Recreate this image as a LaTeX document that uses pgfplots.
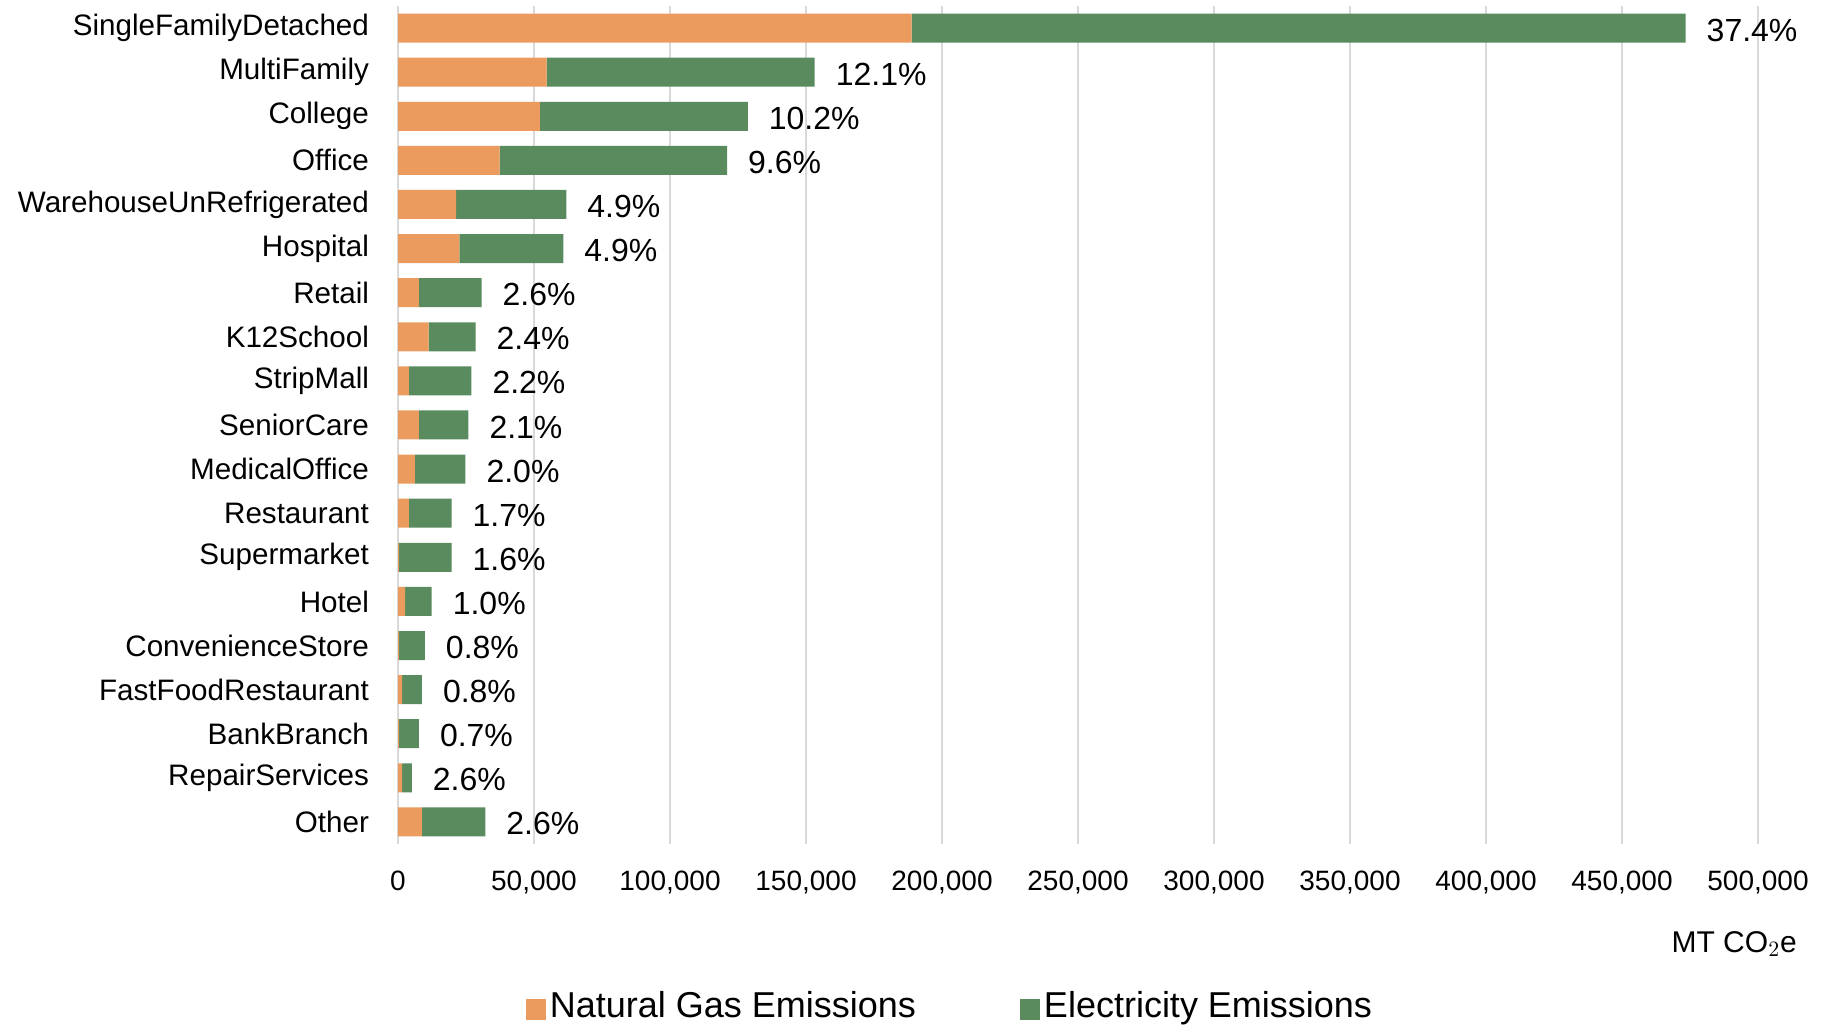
\documentclass[border=0pt]{standalone}
\usepackage{pgfplots}
\pgfplotsset{compat=1.18}
\usepackage{fontspec}
\setmainfont{Liberation Sans}
\definecolor{gasc}{RGB}{235,155,94}
\definecolor{elec}{RGB}{89,139,95}
\definecolor{gridc}{RGB}{217,217,217}

\begin{document}
\begin{tikzpicture}
\path[use as bounding box] (0,0) rectangle (910.5pt,513pt);
\begin{axis}[
    at={(199pt,91pt)}, anchor=south west,
    scale only axis,
    width=680pt, height=419pt,
    xbar stacked,
    bar width=14.5pt,
    xmin=0, xmax=500000,
    ymin=-0.5, ymax=18.5,
    y dir=reverse,
    axis line style={draw=none},
    xtick={0,50000,...,500000},
    scaled x ticks=false,
    /pgf/number format/.cd, fixed, 1000 sep={,}, assume math mode=true,
    /pgfplots/.cd,
    xmajorgrids,
    grid style={gridc, line width=1pt},
    major tick length=0pt,
    xticklabel style={font=\fontsize{14}{16}\selectfont, yshift=-10pt},
    ytick={0,...,18},
    yticklabels={SingleFamilyDetached,MultiFamily,College,Office,WarehouseUnRefrigerated,Hospital,Retail,K12School,StripMall,SeniorCare,MedicalOffice,Restaurant,Supermarket,Hotel,ConvenienceStore,FastFoodRestaurant,BankBranch,RepairServices,Other},
    yticklabel style={font=\fontsize{14.8}{17}\selectfont, xshift=-11pt},
    xlabel={MT CO$_2$e},
    xlabel style={at={(axis description cs:1.0338,-0.119)}, anchor=east, font=\fontsize{15}{18}\selectfont},
    clip=false,
    legend columns=2,
    legend style={at={(axis description cs:0.4066,-0.1933)}, anchor=center, draw=none,
        font=\fontsize{18}{21}\selectfont,
        /tikz/every even column/.append style={column sep=50pt}},
    legend image code/.code={\fill[#1] (0pt,-7pt) rectangle (10pt,3.5pt);},
]
\addplot[fill=gasc, draw=none] coordinates {
(188800,0) (54600,1) (52200,2) (37400,3) (21400,4) (22600,5) (7700,6) (11300,7) (4000,8) (7700,9)
(6200,10) (4000,11) (300,12) (2600,13) (300,14) (1500,15) (300,16) (1500,17) (8800,18)};
\addplot[fill=elec, draw=none] coordinates {
(284600,0) (98600,1) (76400,2) (83600,3) (40500,4) (38200,5) (23000,6) (17200,7) (23000,8) (18200,9)
(18600,10) (15700,11) (19400,12) (9800,13) (9600,14) (7300,15) (7400,16) (3600,17) (23300,18)};
% shares of the total, written at the end of each bar
\addplot[draw=none, fill=none, forget plot,
    point meta=explicit symbolic,
    nodes near coords,
    nodes near coords style={anchor=west, xshift=7pt, yshift=-1pt, font=\fontsize{16}{19}\selectfont, text=black},
] coordinates {
(1,0) [37.4\%] (1,1) [12.1\%] (1,2) [10.2\%] (1,3) [9.6\%] (1,4) [4.9\%]
(1,5) [4.9\%] (1,6) [2.6\%] (1,7) [2.4\%] (1,8) [2.2\%] (1,9) [2.1\%]
(1,10) [2.0\%] (1,11) [1.7\%] (1,12) [1.6\%] (1,13) [1.0\%] (1,14) [0.8\%]
(1,15) [0.8\%] (1,16) [0.7\%] (1,17) [2.6\%] (1,18) [2.6\%]};
\legend{Natural Gas Emissions, Electricity Emissions}
\end{axis}
\end{tikzpicture}
\end{document}
